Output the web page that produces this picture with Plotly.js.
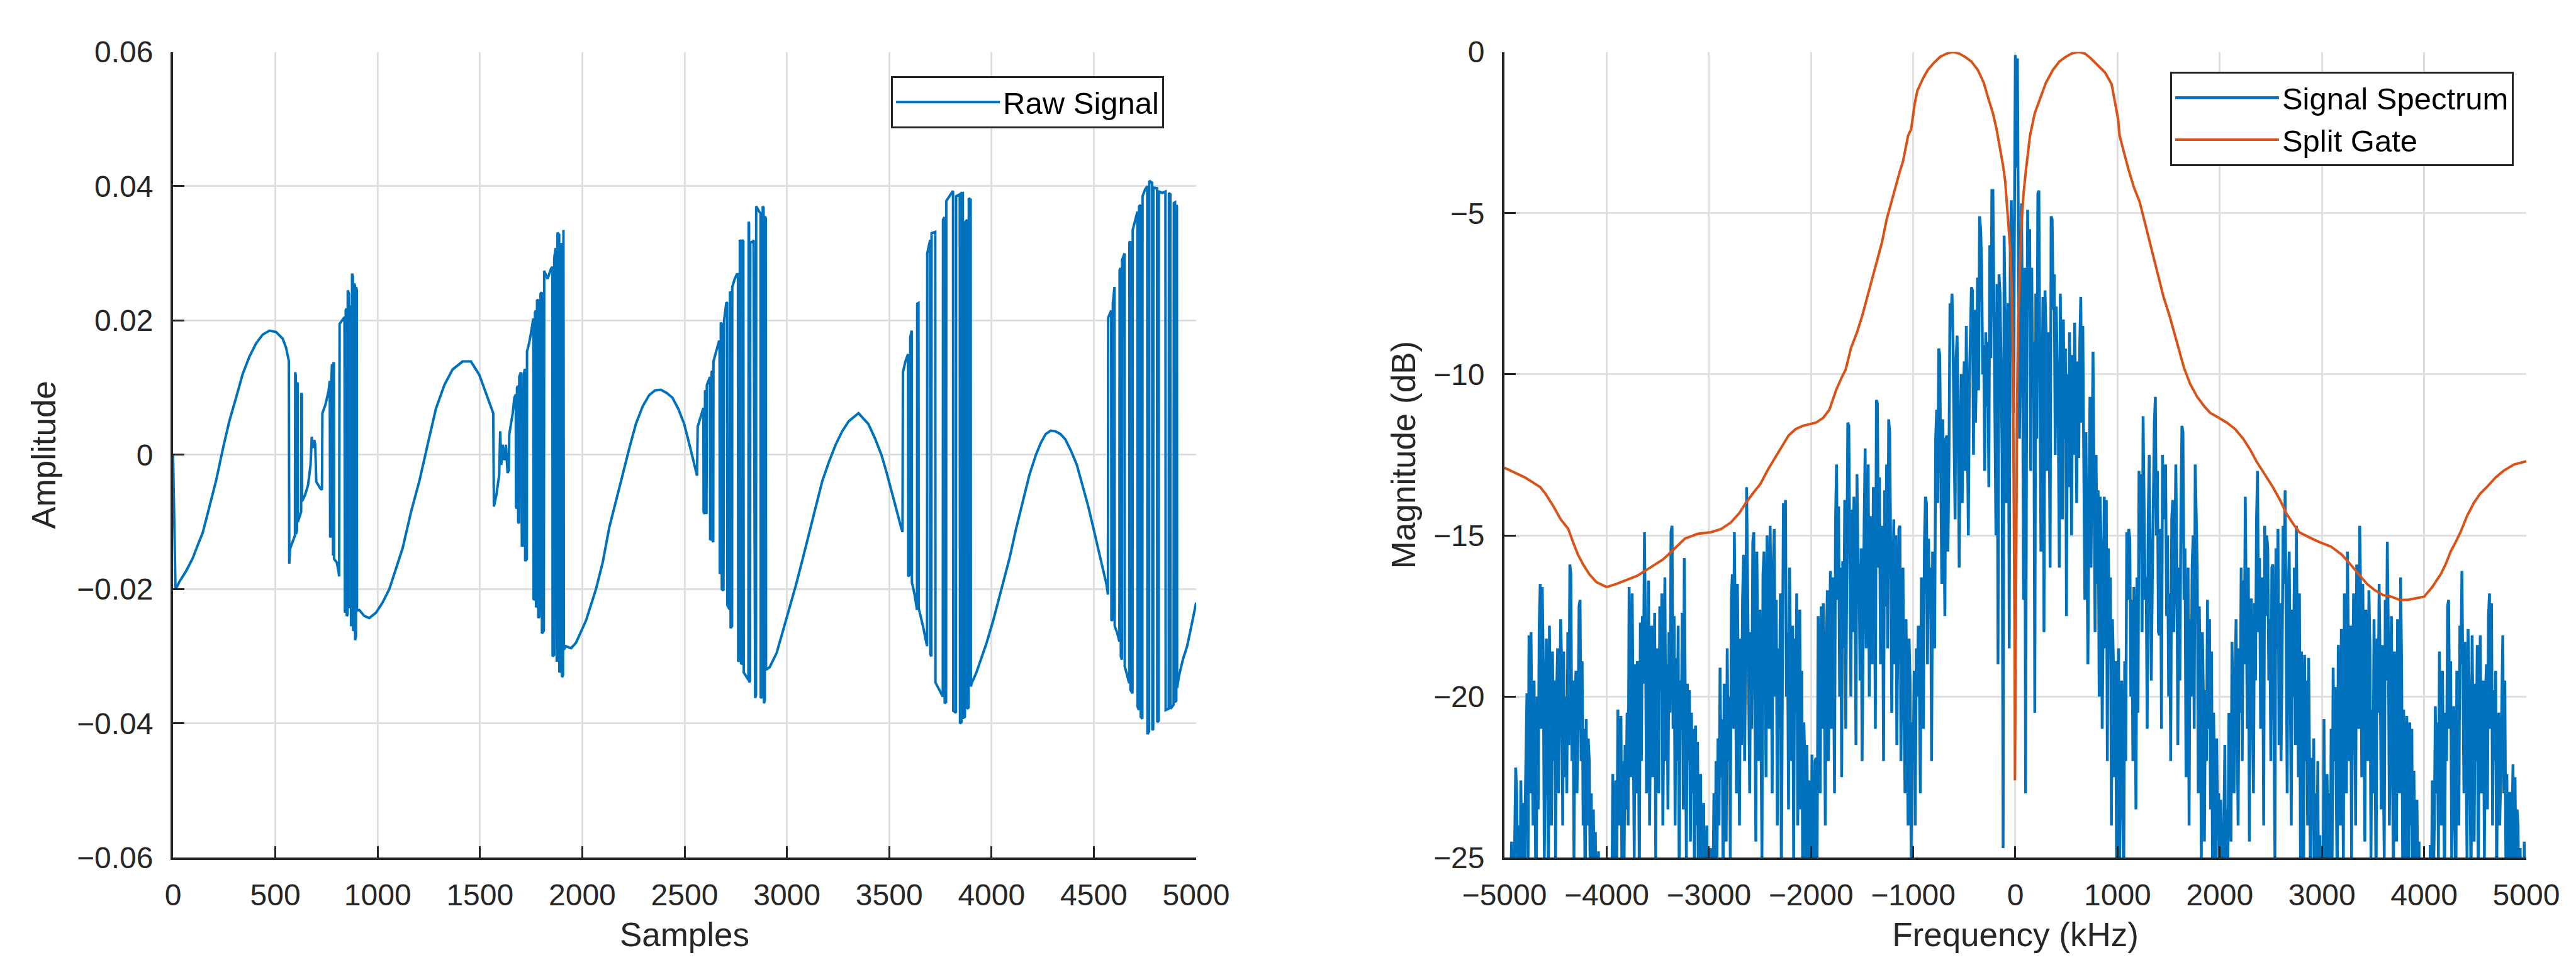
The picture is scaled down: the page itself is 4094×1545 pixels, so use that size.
<!DOCTYPE html>
<html>
<head>
<meta charset="utf-8">
<script src="https://cdn.plot.ly/plotly-3.0.1.min.js"></script>
<style>
html,body{margin:0;padding:0;background:#ffffff;}
#chart{width:4094px;height:1545px;}
</style>
</head>
<body>
<div id="chart"></div>
<script>
// ---------- Left panel: raw signal (sample index, amplitude) ----------
const rawSamples = [
0,12,20,31,64,96,120,145,178,210,243,275,308,340,373,406,438,471,503,536,552,560,566,
568,572,580,590,596,597,600,601,606,607,609,610,626,627,630,631,645,660,672,678,684,690,695,700,710,720,728,730,745,760,766,768,772,773,777,779,782,783,786,787,800,808,812,814,825,838,840,843,844,848,849,853,854,860,861,865,866,869,870,874,875,879,880,884,885,889,890,894,895,898,899,910,
935,959,992,1024,1057,1090,1122,1163,1204,1244,1285,1326,1366,1415,1456,1497,1529,1554,1565,
1568,1580,1594,1599,1604,1611,1619,1627,1635,1641,1643,1652,1660,1668,1675,1676,1680,1681,1686,1687,1691,1692,1700,1705,1712,1713,1720,1721,1729,1730,1740,1749,1757,1761,1762,1768,1769,1773,1774,1778,1779,1784,1785,1790,1795,1796,1802,1803,1812,1814,1830,1847,1854,1855,1862,1863,1870,1875,1878,1879,1887,1888,1895,1896,1900,1901,1906,1908,1910,
1920,1945,1969,2018,2067,2100,2132,2165,2197,2230,2262,2295,2327,2356,2384,2413,2441,2470,2498,2524,2545,2561,
2564,2576,2588,2592,2593,2598,2600,2603,2604,2607,2609,2616,2624,2625,2630,2632,2635,2636,2640,2641,2655,2669,2671,2672,2676,2677,2681,2682,2690,2693,2704,2708,2709,2720,2722,2724,2725,2732,2733,2745,2757,2761,2762,2768,2770,2775,2776,2780,2781,2787,2789,2800,2812,2813,2815,2816,2820,2821,2836,2837,2845,2849,2850,2865,2871,2872,2880,2882,2886,2888,2892,2893,2897,2898,
2916,2950,2981,3013,3045,3077,3109,3141,3173,3206,3238,3270,3302,3350,3398,3430,3462,3486,3510,3534,3558,3565,
3567,3580,3592,3593,3602,3603,3610,3611,3624,3636,3637,3643,3644,3665,3685,3686,3700,3701,3706,3707,3725,3726,3745,3762,3763,3770,3771,3778,3779,3795,3812,3813,3826,3827,3845,3846,3853,3854,3860,3861,3870,3871,3880,3881,3888,3889,3898,3899,
3904,3925,3944,3976,4008,4040,4088,4120,4152,4185,4217,4241,4265,4289,4313,4337,4361,4390,4417,4445,4473,4497,4521,4545,4562,4569,
4570,4585,4586,4592,4593,4601,4602,4614,4625,4626,4631,4632,4637,4638,4650,4651,4662,4673,4674,4678,4679,4689,4690,4702,4713,4714,4720,4721,4728,4729,4737,4738,4750,4761,4762,4770,4771,4785,4786,4790,4791,4809,4810,4817,4818,4834,4850,4851,4866,4867,4874,4875,4890,4891,4897,4898,4903,4904,4906,
4907,4915,4935,4956,4980,5000
];
const rawAmplitude = [
0.0000,-0.0198,-0.0196,-0.0189,-0.0173,-0.0154,-0.0135,-0.0116,-0.0077,-0.0039,0.0008,0.0050,0.0085,0.0120,0.0146,0.0166,0.0179,0.0185,0.0183,0.0173,0.0160,0.0150,0.0140,
-0.0162,-0.0140,-0.0133,-0.0125,-0.0120,0.0123,0.0118,-0.0118,-0.0112,0.0108,0.0105,-0.0100,-0.0085,0.0092,0.0090,-0.0069,-0.0060,-0.0045,-0.0015,0.0027,0.0010,0.0022,0.0015,-0.0040,-0.0045,-0.0050,-0.0052,0.0062,0.0075,0.0095,0.0110,-0.0123,-0.0120,0.0105,0.0135,-0.0150,-0.0150,0.0135,0.0138,-0.0155,-0.0160,-0.0172,-0.0181,0.0195,0.0200,0.0205,-0.0235,-0.0230,0.0215,0.0218,-0.0240,-0.0238,0.0245,0.0240,-0.0228,-0.0225,0.0220,0.0222,-0.0255,-0.0250,0.0270,0.0265,-0.0262,-0.0260,0.0255,0.0252,-0.0276,-0.0270,0.0250,0.0245,-0.0232,-0.0231,
-0.0240,-0.0243,-0.0235,-0.0220,-0.0200,-0.0170,-0.0139,-0.0085,-0.0039,0.0015,0.0069,0.0104,0.0127,0.0139,0.0139,0.0119,0.0092,0.0069,0.0062,
-0.0077,-0.0060,-0.0030,0.0035,-0.0015,0.0015,-0.0008,0.0015,-0.0027,-0.0023,0.0030,0.0046,0.0062,0.0085,0.0090,-0.0077,-0.0080,0.0100,0.0103,-0.0100,-0.0102,0.0116,0.0123,-0.0135,-0.0135,0.0120,0.0128,-0.0158,-0.0155,0.0154,0.0166,0.0181,0.0200,0.0203,-0.0216,-0.0214,0.0212,0.0215,-0.0227,-0.0225,0.0231,0.0230,-0.0243,-0.0240,-0.0239,0.0240,0.0242,-0.0266,-0.0262,0.0274,0.0262,0.0277,0.0280,-0.0300,-0.0298,0.0293,0.0308,-0.0308,-0.0305,0.0331,0.0328,-0.0324,-0.0320,0.0312,0.0315,-0.0331,-0.0328,0.0335,-0.0290,
-0.0285,-0.0288,-0.0280,-0.0247,-0.0200,-0.0160,-0.0108,-0.0070,-0.0030,0.0010,0.0046,0.0072,0.0089,0.0096,0.0097,0.0092,0.0085,0.0068,0.0046,0.0015,-0.0010,-0.0031,
0.0042,0.0055,0.0069,0.0070,-0.0085,-0.0088,0.0096,0.0095,-0.0085,-0.0088,0.0104,0.0110,0.0116,-0.0127,-0.0125,0.0123,0.0125,-0.0127,-0.0130,0.0139,0.0155,0.0170,0.0168,-0.0177,-0.0175,0.0197,0.0195,-0.0200,-0.0202,0.0200,0.0227,0.0226,-0.0224,-0.0230,0.0243,0.0242,-0.0258,-0.0255,0.0250,0.0262,0.0270,0.0268,-0.0308,-0.0305,0.0320,0.0318,-0.0312,-0.0310,0.0320,0.0318,-0.0324,-0.0330,-0.0335,0.0347,0.0345,-0.0339,-0.0336,0.0316,0.0318,0.0320,-0.0362,-0.0358,0.0370,0.0362,0.0360,-0.0362,-0.0360,0.0370,0.0368,-0.0370,-0.0365,0.0355,0.0352,-0.0320,
-0.0316,-0.0295,-0.0262,-0.0230,-0.0193,-0.0155,-0.0116,-0.0077,-0.0039,-0.0010,0.0015,0.0035,0.0050,0.0062,0.0046,0.0025,0.0000,-0.0025,-0.0054,-0.0080,-0.0108,-0.0115,
0.0123,0.0140,0.0150,-0.0181,-0.0178,0.0175,0.0185,-0.0190,-0.0208,-0.0231,0.0225,0.0226,-0.0228,-0.0255,-0.0285,0.0300,0.0320,-0.0297,-0.0300,0.0330,0.0332,-0.0339,-0.0350,-0.0360,0.0350,0.0354,-0.0370,-0.0368,0.0378,0.0386,0.0393,-0.0381,-0.0384,0.0385,0.0388,-0.0400,-0.0398,0.0390,0.0390,-0.0392,-0.0390,0.0346,0.0350,-0.0378,-0.0376,0.0382,0.0380,-0.0345,
-0.0339,-0.0325,-0.0308,-0.0280,-0.0247,-0.0210,-0.0154,-0.0110,-0.0069,-0.0030,0.0000,0.0018,0.0031,0.0036,0.0035,0.0031,0.0023,0.0005,-0.0015,-0.0045,-0.0077,-0.0108,-0.0139,-0.0170,-0.0193,-0.0208,
0.0204,0.0215,-0.0247,-0.0245,0.0225,0.0250,-0.0255,-0.0265,-0.0278,0.0275,0.0278,-0.0300,-0.0305,0.0290,0.0300,-0.0315,-0.0328,-0.0340,0.0316,0.0318,-0.0350,-0.0355,0.0335,0.0350,0.0362,-0.0375,-0.0380,0.0370,0.0372,-0.0390,-0.0393,0.0385,0.0395,0.0400,-0.0416,-0.0412,0.0408,0.0405,-0.0410,-0.0408,0.0398,0.0397,-0.0398,-0.0396,0.0392,0.0390,0.0392,-0.0380,-0.0378,0.0390,0.0388,-0.0378,-0.0372,0.0375,0.0376,-0.0368,-0.0366,0.0372,0.0370,
-0.0347,-0.0331,-0.0305,-0.0285,-0.0250,-0.0220
];

// ---------- Right panel: spectrum (dB), one value per 10 kHz from -5000 kHz ----------
const freqStartKHz = -5000;
const freqStepKHz = 10;
const spectrumDb = [
-29,-31,-27,-30,-28,-32,-26,-24.5,-29,-27,-25,-22.2,-23,-26,-24,-28,-22.6,-25,-23.3,-27,
-24,-21,-19.9,-26,-18.1,-23,-18,-21.5,-24,-19.5,-22.5,-27,-20,-23.5,-17.8,-16.5,-21,-16.6,-19,-25,
-22,-18.2,-20.5,-26,-17.8,-21,-24,-18.6,-22,-19.5,-25,-20,-18.5,-23,-21,-17.6,-19,-24,-18.6,-22.5,
-20,-23,-18,-21.5,-15.9,-16.2,-22,-19.5,-25,-20,-19.2,-23,-21,-17.2,-17,-22,-18.9,-24,-21,-27,
-20.7,-24,-21.3,-22,-26,-23,-28,-23.5,-26,-24.2,-29,-27,-24.8,-30,-28,-31,-26,-29,-32,-27,
-30,-33,-28,-26,-31,-24.5,-22.4,-27,-23.5,-22.6,-25,-20.4,-23,-24,-20.6,-26,-22,-25.5,-21.5,-23.5,
-20.5,-24,-16.6,-19,-22.5,-16.8,-21,-25,-19,-23,-18.9,-20.3,-26,-17.7,-22,-17.5,-19.6,-14.9,-18,-23,
-21,-16.4,-24,-19.5,-17.8,-22.5,-20,-17.4,-25,-18.5,-21.5,-23,-17.2,-19.8,-16.8,-24,-20.5,-16.3,-22,-19,
-23.5,-18,-20.5,-14.9,-14.7,-21,-17.5,-24,-18.8,-22,-17.8,-26,-19.5,-21,-17.4,-23.5,-15.7,-20,-25,-19.6,
-22,-19.8,-24.5,-20.5,-23,-21,-26,-20.9,-24,-21.4,-27,-23.5,-22.4,-28,-25,-23.3,-30,-26,-24,-29,
-31,-27,-24.7,-29,-26,-23,-27.5,-22,-25,-21.3,-24,-19.1,-22.5,-20.7,-26,-19.6,-21,-24.5,-18.5,-22,
-20,-25,-17,-16.2,-21,-14.9,-18.3,-23,-16.5,-19.5,-24,-18.2,-21.5,-17,-15.6,-22,-19,-13.5,-16.4,-20.5,
-23,-18,-21,-15.2,-14.9,-19.8,-24.5,-15.5,-18.7,-22,-17.3,-20.5,-25,-16.2,-15.5,-19,-22.5,-15,-18,-21,
-14.7,-17.5,-23,-16,-14.8,-20,-17,-24,-18.5,-21,-16.8,-26,-19.5,-14,-15.2,-13.9,-20,-18,-23.5,-16,
-19,-22,-17.8,-25,-18.2,-20.5,-16.8,-24,-21,-17.3,-23.5,-19.2,-27,-20.8,-22,-25.5,-21.5,-24,-28,-22.6,
-26,-21.8,-24,-29,-22,-21.9,-25,-17.5,-20.5,-23,-17.2,-21,-17.1,-19.5,-24,-18.4,-16.7,-22,-19,-16.1,
-21,-16.3,-18.8,-23,-14.5,-12.8,-17,-14.1,-20,-16,-22.5,-15.8,-18.5,-13.9,-21,-16.4,-11.5,-11.6,-17.5,-20,
-14.2,-18,-13.8,-16.5,-21.5,-13.1,-15.9,-16,-19.5,-15.4,-22,-17,-14.6,-12.3,-18.5,-15,-12.8,-20,-16.5,-14.4,
-19,-13.5,-15.8,-21,-10.8,-10.9,-16,-13.2,-19,-14.7,-16,-22,-13.6,-17.2,-12.8,-18.5,-11.4,-11.8,-15.5,-20.5,
-16.9,-14.5,-19,-15,-21.5,-17.3,-14.8,-14.7,-22,-18,-16,-20.5,-23,-17.6,-21,-24,-18.2,-19.6,-25,-20.8,
-22,-19.2,-24,-18.5,-20,-17.8,-19.5,-23,-16.3,-18.5,-21,-15.2,-13.8,-14,-19,-15.1,-17,-16,-22,-15.5,
-15.8,-18.5,-12,-11.1,-14,-9.2,-9.4,-13,-16.5,-11.4,-13.8,-17.5,-12,-11.9,-15.5,-12.7,-7.8,-8.2,-7.5,-9,
-12,-14.5,-9.5,-8.8,-11.5,-16,-12.5,-10,-14,-10.6,-9.6,-13,-8.5,-11.5,-15,-10.2,-9,-7.3,-7.4,-12.5,
-8,-11.5,-9.6,-7,-10.5,-5.1,-5.5,-6.6,-10,-9.1,-13,-8.7,-11,-9,-13.5,-6,-9.5,-4.3,-4.3,-8.5,
-10.8,-15,-7.2,-19,-6.9,-7.5,-9.6,-12.5,-24.7,-5.7,-8,-14,-9.3,-7.8,-18.5,-6.2,-4.6,-7,-11.2,-5.5,
-0.1,-3.6,-0.2,-6.1,-12,-8.5,-4.7,-9,-17,-6.7,-23,-11,-4.9,-8,-5.5,-13,-6.7,-10.5,-9,-20.5,
-7.5,-12,-4.4,-4.3,-9,-15.5,-10.6,-7.6,-18,-7.4,-8.7,-13,-8.7,-11,-16,-5.1,-5.2,-8,-6.9,-12.5,
-7.9,-10,-11.6,-16,-7.5,-10.5,-14.5,-8.3,-12,-9.2,-17.5,-10,-13.5,-8.7,-11,-15,-9.4,-12.5,-8.4,-10.8,
-14,-9.6,-12.6,-9.1,-7.6,-11.5,-8.5,-13,-17,-11.8,-14.5,-19,-14.1,-10.7,-16,-12,-9.3,-13.5,-18,-12.5,
-16.5,-13.6,-20,-13.8,-15.5,-21,-16,-13.8,-18.5,-13.9,-22,-15.4,-18,-16.3,-24,-17.6,-19,-22.5,-18.9,-25,
-22,-18.5,-25,-21,-19.5,-23,-26,-18.9,-22,-14.9,-17,-14.8,-15.1,-20,-17,-22,-16.6,-19,-23.5,-16.3,
-20.5,-13,-15.5,-13.1,-18,-11.3,-13.5,-17,-16.3,-21,-14.5,-12.5,-16,-19.5,-16.5,-13.2,-11.5,-10.7,-15,-13,
-18,-18.1,-14.8,-21,-12.5,-14.5,-13.3,-12.8,-17.5,-15,-20,-16.8,-22,-14.5,-13.9,-18,-16,-12.8,-15.5,-21.5,
-16,-19.5,-14.2,-11.6,-11.8,-17,-15.4,-22.5,-19,-16,-24,-17.6,-20,-15.9,-15,-21,-12.8,-14,-16,-23,
-17.2,-19.4,-25,-18,-20,-24.5,-19.8,-22,-17,-21,-17.6,-23.5,-18.6,-26,-20.5,-22.5,-27,-21.3,-24,-23,
-28,-23.2,-26,-30,-24,-21.5,-27,-23.5,-25,-20.5,-22,-24.5,-18.3,-20.5,-23,-19.5,-17.6,-21,-24,-18.5,
-20.5,-16,-22,-16.4,-19,-13.8,-17.5,-21,-16,-24.5,-17,-17,-20.5,-23,-17.1,-19.5,-14.5,-13,-18,-15.7,
-21,-16.3,-18,-24,-14.7,-17.5,-15,-15.4,-19.5,-17.6,-22,-16,-15.9,-20,-25,-15.4,-18.5,-14.8,-21.5,-17.1,
-22,-19,-14.7,-16.5,-13.6,-18,-23,-16.8,-15.5,-19.6,-24,-17.3,-20,-16,-21.5,-14.7,-18,-22.5,-16.8,-25,
-18.6,-21,-26,-18.7,-22,-19.5,-24,-18.8,-22.5,-27,-21.9,-24,-21.3,-28,-23,-25.5,-22,-29,-24.3,-27,
-30,-26,-20.7,-25,-28,-22.4,-24.5,-23,-29,-21,-25,-19.1,-22,-19.7,-23.5,-26,-18.4,-21,-24,-17.9,
-21.5,-25,-16.8,-19.4,-23,-15.5,-18,-22,-17.8,-25,-20,-16.8,-19.5,-24,-15.9,-18.5,-21,-14.7,-17,-22.5,
-16.5,-20,-24.5,-17.3,-19,-22,-16.7,-18.5,-25,-20.4,-23,-17.6,-21,-26,-18.2,-20.5,-16.5,-19,-23.5,-18.4,
-22,-25,-17,-19.5,-15.2,-18,-24,-20,-17.5,-22,-26,-18.6,-21,-24.5,-17.6,-20,-23,-16.3,-19,-25,
-20.4,-23,-27,-20.6,-22,-25.5,-20.8,-24,-21,-27.5,-22.3,-25,-29,-23.2,-26,-24.5,-30,-27,-25,-31,
-29,-27,-32,-25,-28,-30,-24.6,-27,-22.6,-26,-24,-20.3,-23,-20.8,-25,-18.6,-21.5,-24,-19.2,-23,
-26,-20.5,-22,-17.2,-17,-21,-18.9,-25,-22,-20.3,-23.5,-27,-19.2,-21.5,-24,-17.8,-19,-16.1,-20,-23,
-18.3,-21.5,-25,-17.9,-19.5,-23,-26,-18.1,-21,-24.5,-19.6,-22,-18.4,-26,-20,-18.1,-23,-21,-19.5,-25,
-20,-19,-23.5,-17.5,-16.8,-21,-17.1,-24,-19.8,-22,-19.2,-26,-21,-20.5,-24,-22.5,-19.6,-18.1,-23,-19.5,
-25,-22.4,-27,-23,-23,-26,-24,-22.1,-28,-22.5,-26,-23.5,-24,-29,-24.7,-27,-25.5,-30,-24.5,-28,
-26
];
const spectrumFreqKHz = spectrumDb.map((_, i) => freqStartKHz + i * freqStepKHz);

// ---------- Right panel: split gate response ----------
const gateFreqKHz = [
-5000,-4900,-4800,-4700,-4650,-4600,-4520,-4450,-4375,-4330,-4280,-4230,-4170,-4100,-4000,-3900,-3815,-3700,-3600,-3525,-3450,-3365,-3300,-3235,-3110,-2980,-2880,-2785,-2700,-2640,-2570,-2495,-2420,-2335,-2260,-2220,-2150,-2080,-1950,-1880,-1820,-1755,-1700,-1660,-1610,-1550,-1500,-1450,-1400,-1347,-1305,-1260,-1210,-1160,-1130,-1100,-1050,-1020,-985,-959,-900,-857,-800,-735,-670,-612,-550,-490,-430,-367,-310,-265,-220,-184,-150,-122,-100,-82,-65,-51,-40,-31,-23,-16,-8,-4,
2,8,16,26,37,50,61,80,102,122,143,190,245,300,367,430,490,550,620,680,735,800,878,942,975,1006,1020,1060,1103,1160,1216,1260,1306,1329,1393,1450,1510,1586,1650,1710,1779,1850,1908,1990,2069,2150,2230,2300,2359,2440,2520,2590,2649,2710,2778,2870,2971,3090,3196,3280,3357,3440,3518,3600,3679,3760,3840,3920,4000,4080,4163,4210,4260,4310,4356,4420,4485,4550,4614,4700,4775,4880,5000
];
const gateDb = [
-12.9,-13.05,-13.2,-13.4,-13.5,-13.7,-14.1,-14.5,-14.8,-15.2,-15.6,-15.9,-16.2,-16.45,-16.6,-16.5,-16.4,-16.25,-16.05,-15.9,-15.75,-15.5,-15.3,-15.1,-14.95,-14.9,-14.8,-14.6,-14.3,-14.0,-13.7,-13.4,-12.95,-12.5,-12.1,-11.9,-11.7,-11.6,-11.5,-11.35,-11.1,-10.5,-10.1,-9.85,-9.2,-8.7,-8.2,-7.6,-7.05,-6.4,-5.9,-5.2,-4.6,-4.0,-3.7,-3.4,-2.6,-2.4,-1.6,-1.2,-0.8,-0.56,-0.35,-0.15,-0.05,0,-0.05,-0.16,-0.3,-0.56,-0.95,-1.44,-1.9,-2.4,-2.95,-3.5,-4.0,-4.8,-5.4,-6.1,-7.0,-8.0,-10,-12.8,-18,-22.6,
-19,-14.5,-11.2,-8.5,-7.2,-6.1,-5.3,-4.4,-3.7,-3.1,-2.6,-1.9,-1.4,-0.95,-0.56,-0.3,-0.16,-0.05,0,-0.05,-0.19,-0.4,-0.64,-1.0,-1.6,-2.1,-2.6,-3.1,-3.6,-4.2,-4.65,-5.2,-5.8,-6.1,-6.9,-7.6,-8.2,-9.1,-9.8,-10.3,-10.7,-11.0,-11.2,-11.35,-11.5,-11.7,-12.0,-12.35,-12.7,-13.1,-13.5,-13.9,-14.3,-14.6,-14.9,-15.05,-15.2,-15.35,-15.6,-15.9,-16.2,-16.5,-16.7,-16.85,-16.9,-17.0,-17.0,-16.95,-16.9,-16.6,-16.2,-15.9,-15.5,-15.2,-14.9,-14.4,-14.0,-13.7,-13.5,-13.2,-13.0,-12.8,-12.7
];

// ---------- Styling ----------
const FONT = '"Liberation Sans", Arial, Helvetica, sans-serif';
const INK = '#262626';
const BLUE = '#0072BD';
const ORANGE = '#D95319';

function axisStyle(extra) {
  return Object.assign({
    showgrid: true, gridcolor: '#dfdfdf', gridwidth: 3,
    zeroline: false,
    showline: true, linecolor: INK, linewidth: 4, mirror: false,
    ticks: 'inside', ticklen: 18, tickwidth: 3, tickcolor: INK,
    tickfont: {family: FONT, size: 48, color: INK},
    fixedrange: true
  }, extra);
}

const traces = [
  {x: rawSamples, y: rawAmplitude, type: 'scatter', mode: 'lines', name: 'Raw Signal',
   line: {color: BLUE, width: 4}, xaxis: 'x', yaxis: 'y', legend: 'legend'},
  {x: spectrumFreqKHz, y: spectrumDb, type: 'scatter', mode: 'lines', name: 'Signal Spectrum',
   line: {color: BLUE, width: 4.5}, xaxis: 'x2', yaxis: 'y2', legend: 'legend2'},
  {x: gateFreqKHz, y: gateDb, type: 'scatter', mode: 'lines', name: 'Split Gate',
   line: {color: ORANGE, width: 4}, xaxis: 'x2', yaxis: 'y2', legend: 'legend2'}
];

const legendCommon = {
  xanchor: 'right', yanchor: 'top',
  bgcolor: '#ffffff', bordercolor: INK, borderwidth: 3,
  font: {family: FONT, size: 49, color: '#000000'},
  itemwidth: 165, tracegroupgap: 0
};

const layout = {
  width: 4094, height: 1545,
  margin: {l: 0, r: 0, t: 0, b: 0},
  paper_bgcolor: '#ffffff', plot_bgcolor: '#ffffff',
  font: {family: FONT, color: INK},
  showlegend: true,
  xaxis: axisStyle({domain: [0.06717, 0.46434], range: [0, 5000], tick0: 0, dtick: 500,
    anchor: 'y', ticklabelstandoff: 14,
    title: {text: 'Samples', font: {family: FONT, size: 53, color: INK}, standoff: 20}}),
  yaxis: axisStyle({domain: [0.1175, 0.9466], range: [-0.06, 0.06], tick0: 0, dtick: 0.02,
    anchor: 'x', ticklabelstandoff: 18,
    title: {text: 'Amplitude', font: {family: FONT, size: 53, color: INK}, standoff: 17}}),
  xaxis2: axisStyle({domain: [0.58403, 0.98070], range: [-5000, 5000], tick0: 0, dtick: 1000,
    anchor: 'y2', ticklabelstandoff: 14,
    title: {text: 'Frequency (kHz)', font: {family: FONT, size: 53, color: INK}, standoff: 20}}),
  yaxis2: axisStyle({domain: [0.1175, 0.9466], range: [-25, 0], tick0: 0, dtick: 5,
    anchor: 'x2', ticklabelstandoff: 18,
    title: {text: 'Magnitude (dB)', font: {family: FONT, size: 53, color: INK}, standoff: 12}}),
  legend: Object.assign({x: 0.4519, y: 0.9217}, legendCommon),
  legend2: Object.assign({x: 0.9758, y: 0.9262}, legendCommon)
};

Plotly.newPlot('chart', traces, layout, {staticPlot: true, displayModeBar: false});
</script>
</body>
</html>
